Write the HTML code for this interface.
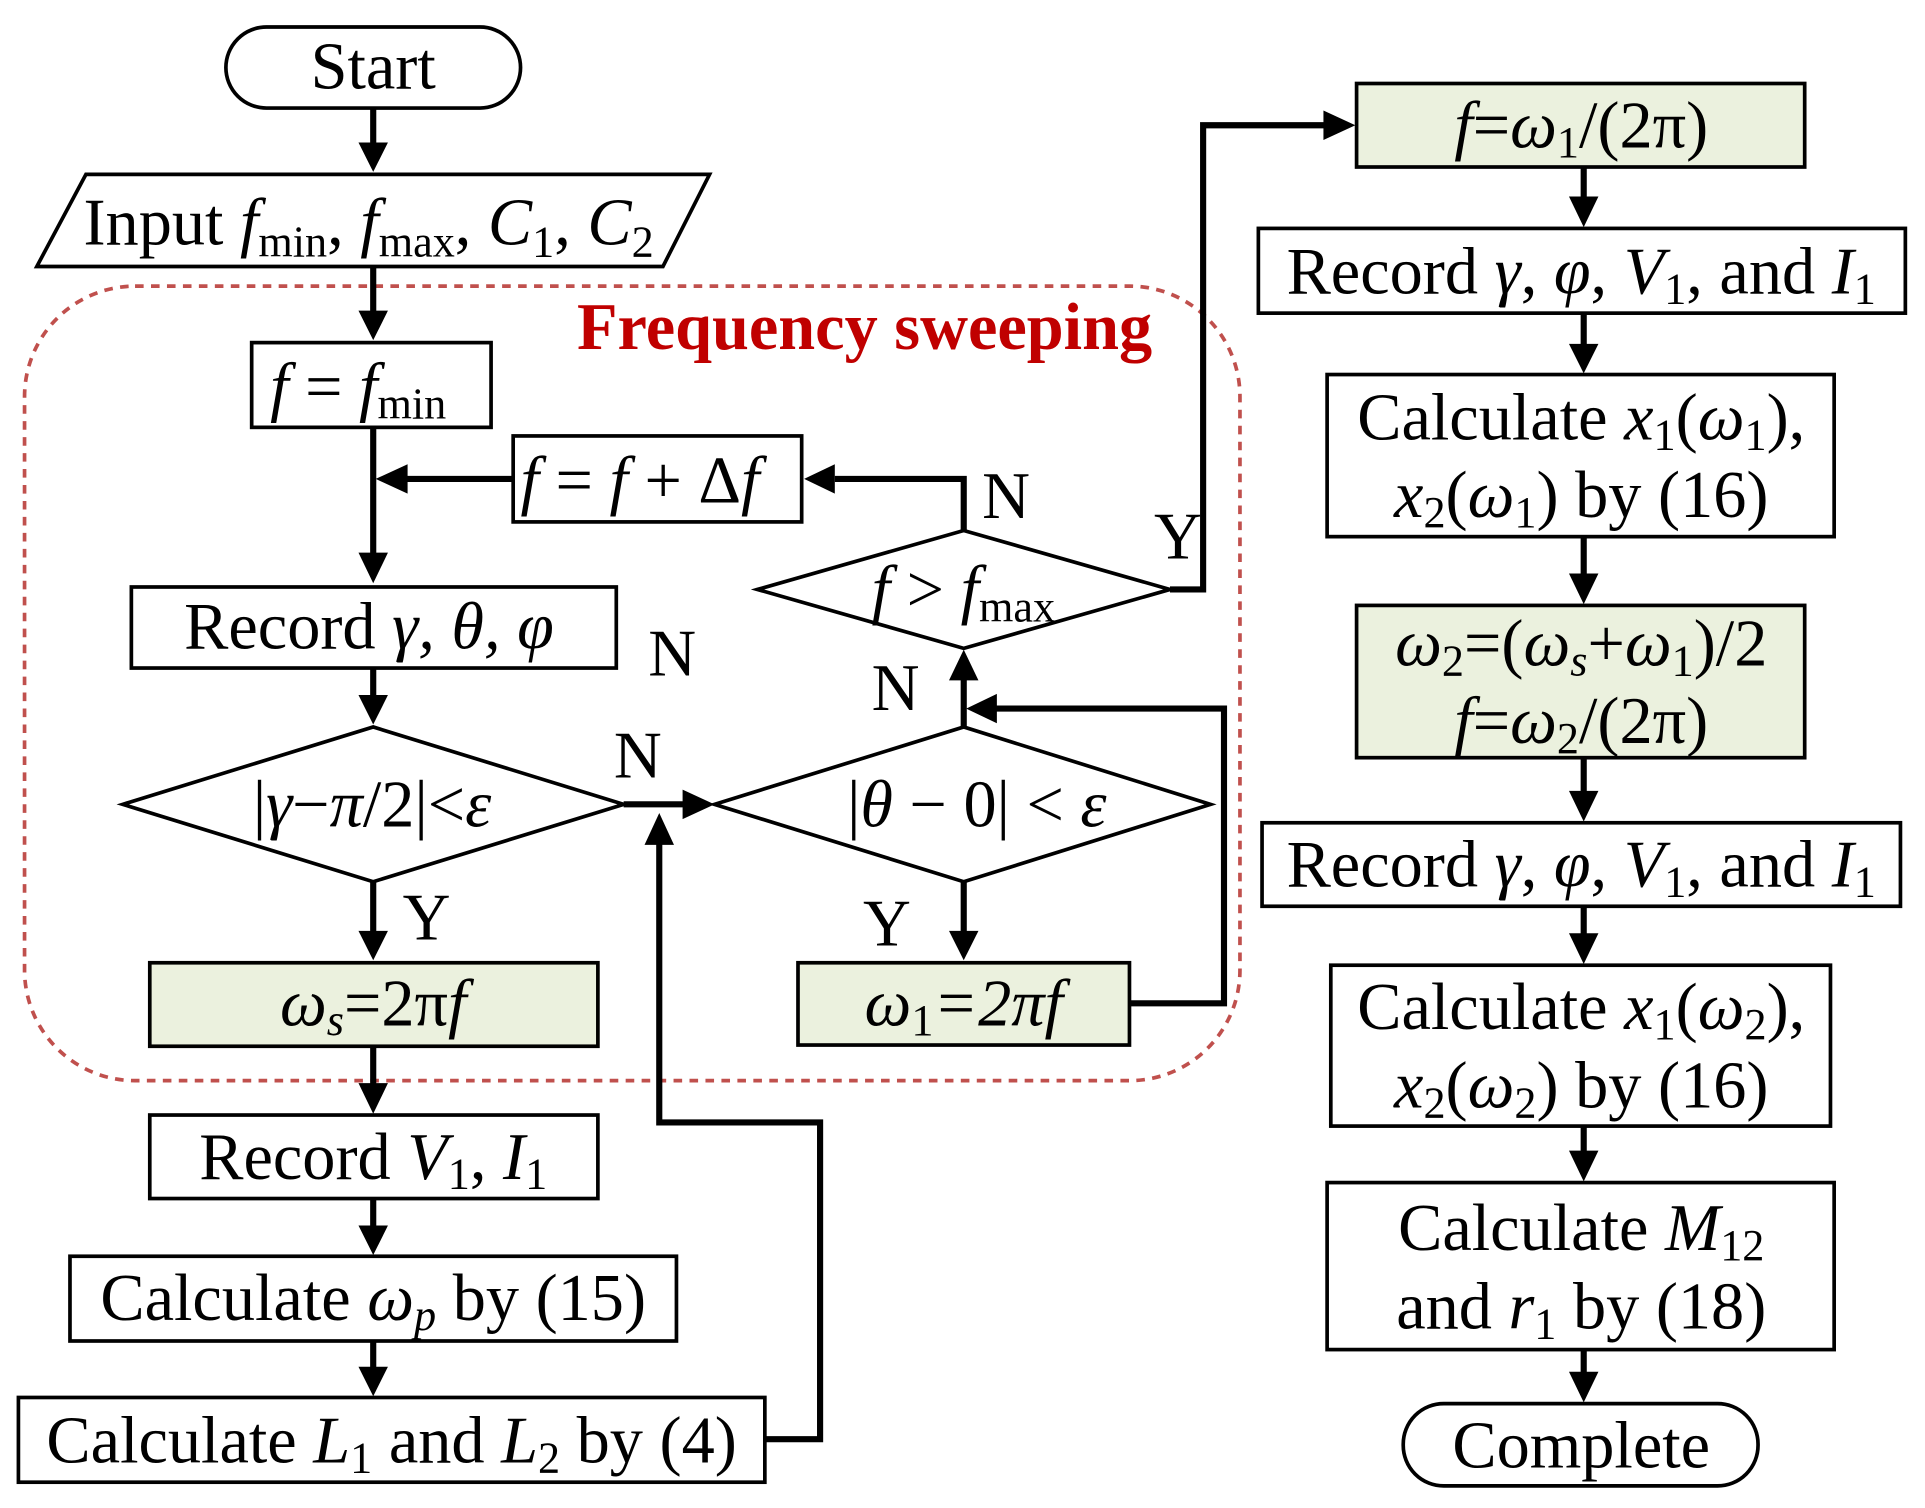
<!DOCTYPE html>
<html><head><meta charset="utf-8"><style>
html,body{margin:0;padding:0;background:#fff;}
svg{display:block;}
text{font-family:"Liberation Serif","DejaVu Serif",serif;font-size:54px;fill:#000;}
.i{font-style:italic;}
.s{font-size:36px;}
</style></head><body>
<svg width="1925" height="1508" viewBox="0 0 1568 1228" preserveAspectRatio="none" xmlns="http://www.w3.org/2000/svg">
<g fill="none" stroke="#000" stroke-width="3">
<rect x="184" y="22" width="240" height="66" rx="33"/>
<polygon points="30,217 70,142 578,142 540,217"/>
<rect x="205" y="279" width="195" height="69"/>
<rect x="418" y="355" width="235" height="70"/>
<polygon points="617,480 785,432 953,480 785,528"/>
<rect x="107" y="478" width="395" height="66"/>
<polygon points="100,655 304,592 508,655 304,718"/>
<polygon points="582,655 785,592 986,655 785,718"/>
<rect x="122" y="784" width="365" height="68" fill="#ebf1de"/>
<rect x="650" y="784" width="270" height="67" fill="#ebf1de"/>
<rect x="122" y="908" width="365" height="68"/>
<rect x="57" y="1023" width="494" height="69"/>
<rect x="15" y="1138" width="608" height="69"/>
<rect x="1105" y="68" width="365" height="68" fill="#ebf1de"/>
<rect x="1025" y="186" width="527" height="69"/>
<rect x="1081" y="305" width="413" height="132"/>
<rect x="1105" y="493" width="365" height="124" fill="#ebf1de"/>
<rect x="1028" y="670" width="520" height="68"/>
<rect x="1084" y="786" width="407" height="131"/>
<rect x="1081" y="963" width="413" height="136"/>
<rect x="1143" y="1143" width="289" height="67" rx="33"/>
<rect x="20" y="233" width="990" height="647" rx="90" stroke="#c0504d" stroke-dasharray="7,6"/>
</g>
<g fill="none" stroke="#000" stroke-width="5">
<path d="M304 88V118M304 217V255M304 348V452M418 390H330M785 432V390H680M953 480H980V102H1080M304 544V568M508 655H558M785 592V552M304 718V760M785 718V760M920 817H997V577H810M304 852V884M304 976V1000M304 1092V1115M623 1172H668V914H537V686M1290 136V162M1290 255V282M1290 437V469M1290 617V646M1290 738V762M1290 917V939M1290 1099V1119"/>
</g>
<g fill="#000">
<polygon points="292,116 316,116 304,140"/>
<polygon points="292,253 316,253 304,277"/>
<polygon points="292,450 316,450 304,475"/>
<polygon points="332,378 332,402 306,390"/>
<polygon points="680,378 680,402 655,390"/>
<polygon points="1078,90 1078,114 1104,102"/>
<polygon points="292,566 316,566 304,590"/>
<polygon points="556,643 556,667 582,655"/>
<polygon points="773,554 797,554 785,529"/>
<polygon points="292,758 316,758 304,782"/>
<polygon points="773,758 797,758 785,782"/>
<polygon points="812,565 812,589 787,577"/>
<polygon points="292,882 316,882 304,907"/>
<polygon points="292,998 316,998 304,1022"/>
<polygon points="292,1113 316,1113 304,1137"/>
<polygon points="525,688 549,688 537,662"/>
<polygon points="1278,160 1302,160 1290,185"/>
<polygon points="1278,280 1302,280 1290,304"/>
<polygon points="1278,467 1302,467 1290,492"/>
<polygon points="1278,644 1302,644 1290,669"/>
<polygon points="1278,760 1302,760 1290,785"/>
<polygon points="1278,937 1302,937 1290,962"/>
<polygon points="1278,1117 1302,1117 1290,1142"/>
</g>
<text x="304" y="72" text-anchor="middle">Start</text>
<text x="68" y="199">Input <tspan class="i">f</tspan><tspan class="s" dy="10">min</tspan><tspan dy="-10">, </tspan><tspan class="i">f</tspan><tspan class="s" dy="10">max</tspan><tspan dy="-10">, </tspan><tspan class="i">C</tspan><tspan class="s" dy="10">1</tspan><tspan dy="-10">, </tspan><tspan class="i">C</tspan><tspan class="s" dy="10">2</tspan></text>
<text x="470" y="284" style="font-weight:bold;fill:#c00000;font-size:54px">Frequency sweeping</text>
<text x="220" y="333"><tspan class="i">f</tspan> = <tspan class="i">f</tspan><tspan class="s" dy="8">min</tspan></text>
<text x="424" y="409"><tspan class="i">f</tspan> = <tspan class="i">f</tspan> + Δ<tspan class="i">f</tspan></text>
<text x="800" y="422">N</text>
<text x="710" y="498"><tspan class="i">f</tspan> &gt; <tspan class="i">f</tspan><tspan class="s" dy="8">max</tspan></text>
<text x="940" y="455">Y</text>
<text x="150" y="528">Record <tspan class="i">γ, θ, φ</tspan></text>
<text x="528" y="550">N</text>
<text x="206" y="673">|<tspan class="i">γ</tspan>−<tspan class="i">π</tspan>/2|&lt;<tspan class="i">ε</tspan></text>
<text x="500" y="633">N</text>
<text x="690" y="673">|<tspan class="i">θ</tspan> − 0| &lt; <tspan class="i">ε</tspan></text>
<text x="710" y="578">N</text>
<text x="328" y="765">Y</text>
<text x="703" y="770">Y</text>
<text x="304" y="835" text-anchor="middle"><tspan class="i">ω</tspan><tspan class="s i" dy="8">s</tspan><tspan dy="-8">=2π</tspan><tspan class="i">f</tspan></text>
<text x="785" y="835" text-anchor="middle"><tspan class="i">ω</tspan><tspan class="s" dy="8">1</tspan><tspan dy="-8" class="i">=2πf</tspan></text>
<text x="304" y="960" text-anchor="middle">Record <tspan class="i">V</tspan><tspan class="s" dy="8">1</tspan><tspan dy="-8">, </tspan><tspan class="i">I</tspan><tspan class="s" dy="8">1</tspan></text>
<text x="304" y="1075" text-anchor="middle">Calculate <tspan class="i">ω</tspan><tspan class="s i" dy="8">p</tspan><tspan dy="-8"> by (15)</tspan></text>
<text x="319" y="1191" text-anchor="middle">Calculate <tspan class="i">L</tspan><tspan class="s" dy="8">1</tspan><tspan dy="-8"> and </tspan><tspan class="i">L</tspan><tspan class="s" dy="8">2</tspan><tspan dy="-8"> by (4)</tspan></text>
<text x="1288" y="120" text-anchor="middle"><tspan class="i">f</tspan>=<tspan class="i">ω</tspan><tspan class="s" dy="8">1</tspan><tspan dy="-8">/(2π)</tspan></text>
<text x="1288" y="239" text-anchor="middle">Record <tspan class="i">γ</tspan>, <tspan class="i">φ</tspan>, <tspan class="i">V</tspan><tspan class="s" dy="8">1</tspan><tspan dy="-8">, and </tspan><tspan class="i">I</tspan><tspan class="s" dy="8">1</tspan></text>
<text x="1288" y="358" text-anchor="middle">Calculate <tspan class="i">x</tspan><tspan class="s" dy="8">1</tspan><tspan dy="-8">(</tspan><tspan class="i">ω</tspan><tspan class="s" dy="8">1</tspan><tspan dy="-8">),</tspan></text>
<text x="1288" y="421" text-anchor="middle"><tspan class="i">x</tspan><tspan class="s" dy="8">2</tspan><tspan dy="-8">(</tspan><tspan class="i">ω</tspan><tspan class="s" dy="8">1</tspan><tspan dy="-8">) by (16)</tspan></text>
<text x="1288" y="542" text-anchor="middle"><tspan class="i">ω</tspan><tspan class="s" dy="8">2</tspan><tspan dy="-8">=(</tspan><tspan class="i">ω</tspan><tspan class="s i" dy="8">s</tspan><tspan dy="-8">+</tspan><tspan class="i">ω</tspan><tspan class="s" dy="8">1</tspan><tspan dy="-8">)/2</tspan></text>
<text x="1288" y="605" text-anchor="middle"><tspan class="i">f</tspan>=<tspan class="i">ω</tspan><tspan class="s" dy="8">2</tspan><tspan dy="-8">/(2π)</tspan></text>
<text x="1288" y="722" text-anchor="middle">Record <tspan class="i">γ</tspan>, <tspan class="i">φ</tspan>, <tspan class="i">V</tspan><tspan class="s" dy="8">1</tspan><tspan dy="-8">, and </tspan><tspan class="i">I</tspan><tspan class="s" dy="8">1</tspan></text>
<text x="1288" y="838" text-anchor="middle">Calculate <tspan class="i">x</tspan><tspan class="s" dy="8">1</tspan><tspan dy="-8">(</tspan><tspan class="i">ω</tspan><tspan class="s" dy="8">2</tspan><tspan dy="-8">),</tspan></text>
<text x="1288" y="902" text-anchor="middle"><tspan class="i">x</tspan><tspan class="s" dy="8">2</tspan><tspan dy="-8">(</tspan><tspan class="i">ω</tspan><tspan class="s" dy="8">2</tspan><tspan dy="-8">) by (16)</tspan></text>
<text x="1288" y="1018" text-anchor="middle">Calculate <tspan class="i">M</tspan><tspan class="s" dy="8">12</tspan></text>
<text x="1288" y="1082" text-anchor="middle">and <tspan class="i">r</tspan><tspan class="s" dy="8">1</tspan><tspan dy="-8"> by (18)</tspan></text>
<text x="1288" y="1195" text-anchor="middle">Complete</text>
</svg>
</body></html>
